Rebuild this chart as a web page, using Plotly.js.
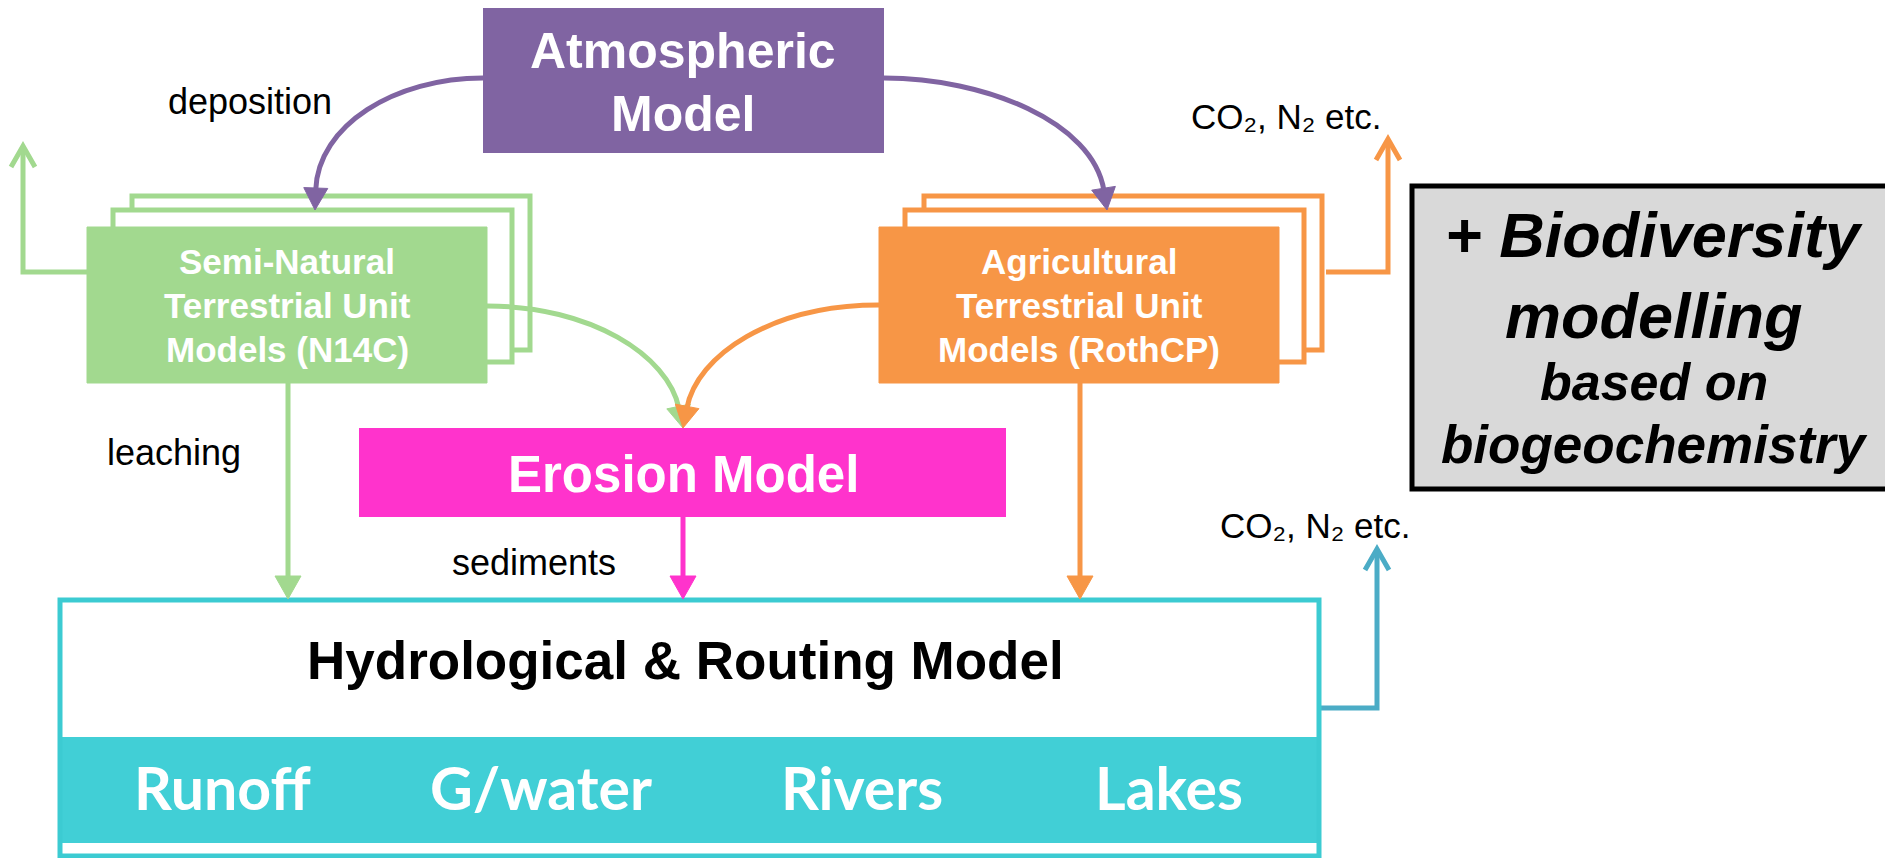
<!DOCTYPE html>
<html>
<head>
<meta charset="utf-8">
<script src="https://cdn.plot.ly/plotly-3.0.1.min.js"></script>
<style>html,body{margin:0;padding:0;background:#fff;}#chart{width:1885px;height:858px;}</style>
</head>
<body>
<div id="chart"></div>
<script>
// ---- content (text only) ----
const atmosLabel = ["Atmospheric", "Model"];
const semiNaturalLabel = ["Semi-Natural", "Terrestrial Unit", "Models (N14C)"];
const agriLabel = ["Agricultural", "Terrestrial Unit", "Models (RothCP)"];
const erosionLabel = ["Erosion Model"];
const hydroLabel = ["Hydrological & Routing Model"];
const compartments = ["Runoff", "G/water", "Rivers", "Lakes"];
const fluxLabels = ["deposition", "leaching", "sediments", "CO\u2082, N\u2082 etc.", "CO\u2082, N\u2082 etc."];
const bioLines = ["+ Biodiversity", "modelling", "based on", "biogeochemistry"];

// ---- colours ----
const C = {
  purple: "#8064A2", green: "#A2D98F", orange: "#F79646", pink: "#FF33CC",
  teal: "#41CFD6", tealLine: "#3CCBD2", cyan: "#4BACC6", grey: "#D9D9D9"
};
const ARIAL = "Liberation Sans, Arial, sans-serif";

const shapes = [];
const annotations = [];

function rect(x0, y0, x1, y1, fill, line, lw) {
  shapes.push({type: "rect", xref: "x", yref: "y", x0: x0, y0: y0, x1: x1, y1: y1,
    fillcolor: fill, line: {color: line || "rgba(0,0,0,0)", width: lw || 0}, layer: "above"});
}
function path(d, color, lw, fill) {
  shapes.push({type: "path", xref: "x", yref: "y", path: d,
    fillcolor: fill || "rgba(0,0,0,0)", line: {color: color, width: lw}, layer: "above"});
}
function headFilled(tx, ty, dx, dy, color, len, half) {
  const n = Math.hypot(dx, dy); dx /= n; dy /= n;
  const bx = tx - dx * len, by = ty - dy * len;
  const px = -dy, py = dx;
  path(`M ${tx},${ty} L ${bx + px * half},${by + py * half} L ${bx - px * half},${by - py * half} Z`, color, 1, color);
  return [bx + dx * 2, by + dy * 2];
}
function headOpen(tx, ty, color, lw) {
  path(`M ${tx - 12},${ty + 22} L ${tx},${ty + 1} L ${tx + 12},${ty + 22}`, color, lw);
}
function curveArrow(p0, c1, c2, p3, color) {
  const base = headFilled(p3[0], p3[1], p3[0] - c2[0], p3[1] - c2[1], color, 22, 12);
  path(`M ${p0[0]},${p0[1]} C ${c1[0]},${c1[1]} ${c2[0]},${c2[1]} ${base[0]},${base[1]}`, color, 5);
}
function downArrow(x, y0, y1, color) {
  path(`M ${x},${y0} L ${x},${y1 - 20}`, color, 5);
  headFilled(x, y1, 0, 1, color, 23, 13);
}
function text(t, x, y, size, color, family, weight, style) {
  annotations.push({xref: "x", yref: "y", x: x, y: y, text: t, showarrow: false,
    xanchor: "center", yanchor: "middle", align: "center",
    font: {size: size, color: color, family: family, weight: weight || "normal", style: style || "normal"}});
}

// ---- stacked terrestrial boxes ----
function stack(front, color) {
  const [x0, y0, x1, y1] = front;
  rect(x0 + 45, y0 - 31, x1 + 43, y1 - 33, "#fff", color, 5);
  rect(x0 + 26, y0 - 17, x1 + 25, y1 - 21, "#fff", color, 5);
  rect(x0, y0, x1, y1, color, color, 1);
}

// side flux arrows (drawn first, under boxes)
path("M 90,272 L 23,272 L 23,147", C.green, 5); headOpen(23, 145, C.green, 5);
path("M 1326,272 L 1388,272 L 1388,140", C.orange, 5); headOpen(1388, 138, C.orange, 5);
path("M 1317,708 L 1377,708 L 1377,550", C.cyan, 5); headOpen(1377, 548, C.cyan, 5);

stack([87, 227, 487, 383], C.green);
stack([879, 227, 1279, 383], C.orange);

// atmospheric model
rect(483, 8, 884, 153, C.purple);
// erosion model
rect(359, 428, 1006, 517, C.pink);
// hydrological box
rect(60, 737, 1319, 843, C.teal);
rect(60, 600, 1319, 856, "rgba(0,0,0,0)", C.tealLine, 5);
// biodiversity box
rect(1412, 186, 1905, 489, C.grey, "#000", 5);

// curved arrows
curveArrow([483, 78], [395, 78], [318, 125], [315, 210], C.purple);
curveArrow([884, 78], [985, 78], [1093, 122], [1107, 210], C.purple);
curveArrow([487, 306], [590, 306], [668, 355], [683, 428], C.green);
curveArrow([879, 305], [772, 305], [697, 355], [683, 428], C.orange);

// straight down arrows
downArrow(288, 383, 599, C.green);
downArrow(683, 517, 599, C.pink);
downArrow(1080, 383, 599, C.orange);

// ---- texts ----
text(atmosLabel[0], 683, 51, 50, "#fff", ARIAL, "bold");
text(atmosLabel[1], 683, 114, 50, "#fff", ARIAL, "bold");
const unitY = [261, 305, 349];
semiNaturalLabel.forEach((l, i) => text(l, 287, unitY[i], 35, "#fff", ARIAL, "bold"));
agriLabel.forEach((l, i) => text(l, 1079, unitY[i], 35, "#fff", ARIAL, "bold"));
text(erosionLabel[0], 683, 474, 51, "#fff", ARIAL, "bold");
text(hydroLabel[0], 685, 660, 53, "#000", ARIAL, "bold");
const compX = [222, 541, 862, 1169];
compartments.forEach((c, i) => text(c, compX[i], 787, 59, "#fff", "Lato, Carlito, sans-serif", "bold"));

text(fluxLabels[0], 250, 101, 36, "#000", ARIAL);
text(fluxLabels[1], 174, 452, 36, "#000", ARIAL);
text(fluxLabels[2], 534, 562, 36, "#000", ARIAL);
text(fluxLabels[3], 1286, 116, 35, "#000", ARIAL);
text(fluxLabels[4], 1315, 525, 35, "#000", ARIAL);

const bioY = [235, 316, 382, 444];
const bioS = [63, 63, 52, 53];
bioLines.forEach((l, i) => text(l, 1654, bioY[i], bioS[i], "#000", ARIAL, "bold", "italic"));

const layout = {
  width: 1885, height: 858,
  margin: {l: 0, r: 0, t: 0, b: 0, pad: 0},
  paper_bgcolor: "#fff", plot_bgcolor: "#fff",
  xaxis: {range: [0, 1885], visible: false, fixedrange: true},
  yaxis: {range: [858, 0], visible: false, fixedrange: true},
  showlegend: false,
  shapes: shapes,
  annotations: annotations
};
Plotly.newPlot("chart", [], layout, {displayModeBar: false, staticPlot: true});
</script>
</body>
</html>
